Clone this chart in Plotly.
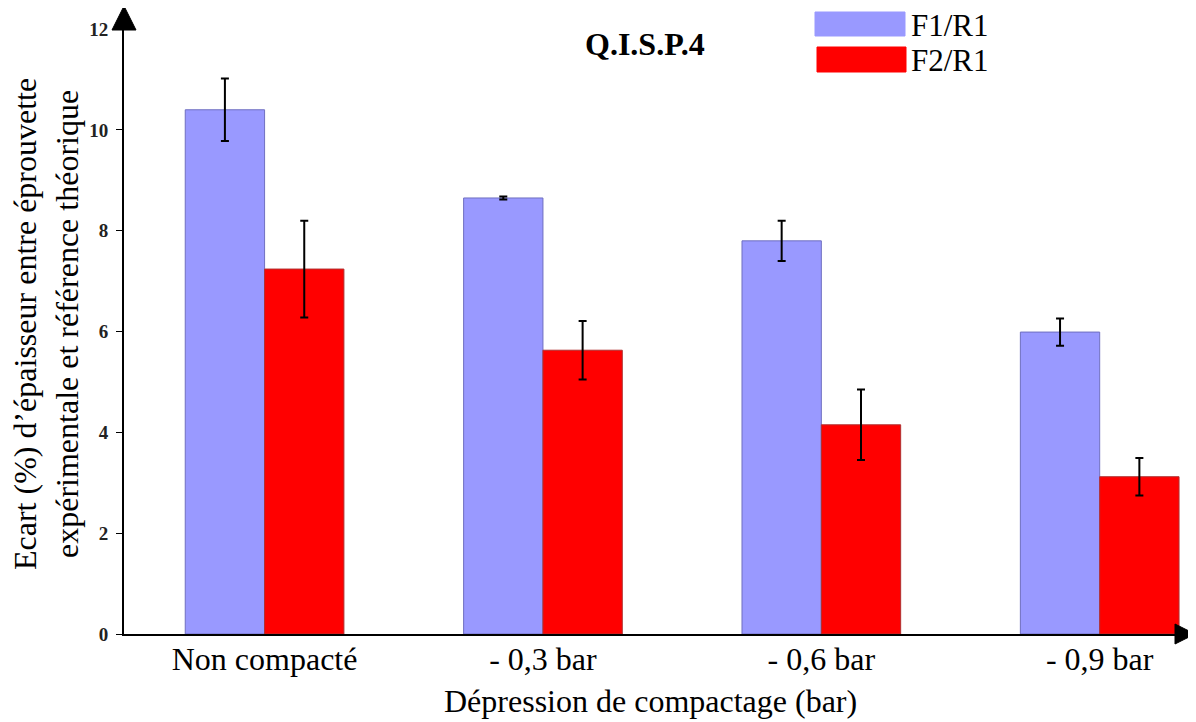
import plotly.graph_objects as go

categories = ["Non compacté", "- 0,3 bar", "- 0,6 bar", "- 0,9 bar"]
f1_values = [10.40, 8.65, 7.80, 5.99]
f1_errors = [0.62, 0.03, 0.40, 0.27]
f2_values = [7.24, 5.63, 4.15, 3.12]
f2_errors = [0.96, 0.58, 0.70, 0.37]
series_names = ["F1/R1", "F2/R1"]
y_ticks = [0, 2, 4, 6, 8, 10, 12]

# page body adds an 8px offset; figure sized to compensate
OFF = 8
W, H = 1196 - OFF, 722 - OFF
ML, MR, MT, MB = 124 - OFF, 10, 14 - OFF, 88
PW, PH = W - ML - MR, H - MT - MB

def px(x):  # screen x -> paper
    return (x - OFF - ML) / PW

def py(y):  # screen y -> paper
    return (H - MB - (y - OFF)) / PH

SERIF = "Liberation Serif, Times New Roman, serif"
F1C = "#9999FF"
F2C = "#FF0000"

fig = go.Figure()
fig.add_trace(go.Bar(
    x=categories, y=f1_values, name=series_names[0],
    marker=dict(color=F1C, line=dict(color="#6F6FC0", width=1)),
    error_y=dict(type="data", array=f1_errors, color="black", thickness=2, width=4),
))
fig.add_trace(go.Bar(
    x=categories, y=f2_values, name=series_names[1],
    marker=dict(color=F2C, line=dict(color="#B03030", width=1)),
    error_y=dict(type="data", array=f2_errors, color="black", thickness=2, width=4),
))

fig.update_layout(
    width=W, height=H,
    margin=dict(l=ML, r=MR, t=MT, b=MB, autoexpand=False),
    paper_bgcolor="white", plot_bgcolor="white",
    barmode="group", bargap=0.43, bargroupgap=0,
    showlegend=False,
    font=dict(family=SERIF, color="black"),
    xaxis=dict(
        range=[-0.505, 3.31], showline=True, linecolor="black", linewidth=2,
        showgrid=False, ticks="", tickfont=dict(size=32, family=SERIF),
        zeroline=False, automargin=False, ticklabelstandoff=-4,
    ),
    yaxis=dict(
        range=[0, 12.3], tickvals=y_ticks, ticktext=[str(t) for t in y_ticks],
        showline=True, linecolor="black", linewidth=2, showgrid=False, zeroline=False,
        ticks="outside", ticklen=6, tickwidth=1, tickcolor="black", automargin=False,
        tickfont=dict(size=19, family=SERIF, weight="bold", color="#222222"),
        ticklabelstandoff=4,
    ),
)

# X axis title
fig.add_annotation(
    xref="paper", yref="paper", x=px(650), y=py(701),
    text="Dépression de compactage (bar)", showarrow=False,
    font=dict(size=32, family=SERIF), xanchor="center", yanchor="middle",
)

# Y axis title (two lines)
fig.add_annotation(
    xref="paper", yref="paper", x=px(46), y=py(324),
    text="Ecart (%) d’épaisseur entre éprouvette<br>expérimentale et référence théorique",
    textangle=-90, showarrow=False, font=dict(size=32, family=SERIF),
    xanchor="center", yanchor="middle",
)

# Chart title
fig.add_annotation(
    xref="paper", yref="paper", x=px(645), y=py(44),
    text="<b>Q.I.S.P.4</b>", showarrow=False, font=dict(size=32, family=SERIF),
    xanchor="center", yanchor="middle",
)

# Custom legend
leg = [(series_names[0], F1C, 12, 36, 815, 905), (series_names[1], F2C, 47, 72, 817, 906)]
for name, col, y0, y1, x0, x1 in leg:
    fig.add_shape(type="rect", xref="paper", yref="paper",
                  x0=px(x0), x1=px(x1), y0=py(y1), y1=py(y0),
                  fillcolor=col, line=dict(color=col, width=1))
    fig.add_annotation(xref="paper", yref="paper", x=px(909), y=py((y0 + y1) / 2 + 1),
                       text=name, showarrow=False, xanchor="left", yanchor="middle",
                       height=30, valign="middle",
                       font=dict(size=31, family=SERIF))

# Axis arrowheads
fig.add_shape(type="path", xref="paper", yref="paper",
              path=f"M {px(124)} {py(6)} L {px(112)} {py(30)} L {px(136)} {py(30)} Z",
              fillcolor="black", line=dict(color="black", width=1))
fig.add_shape(type="path", xref="paper", yref="paper",
              path=f"M {px(1195)} {py(634)} L {px(1175)} {py(624)} L {px(1175)} {py(644)} Z",
              fillcolor="black", line=dict(color="black", width=1))

fig.write_html("out.html")
